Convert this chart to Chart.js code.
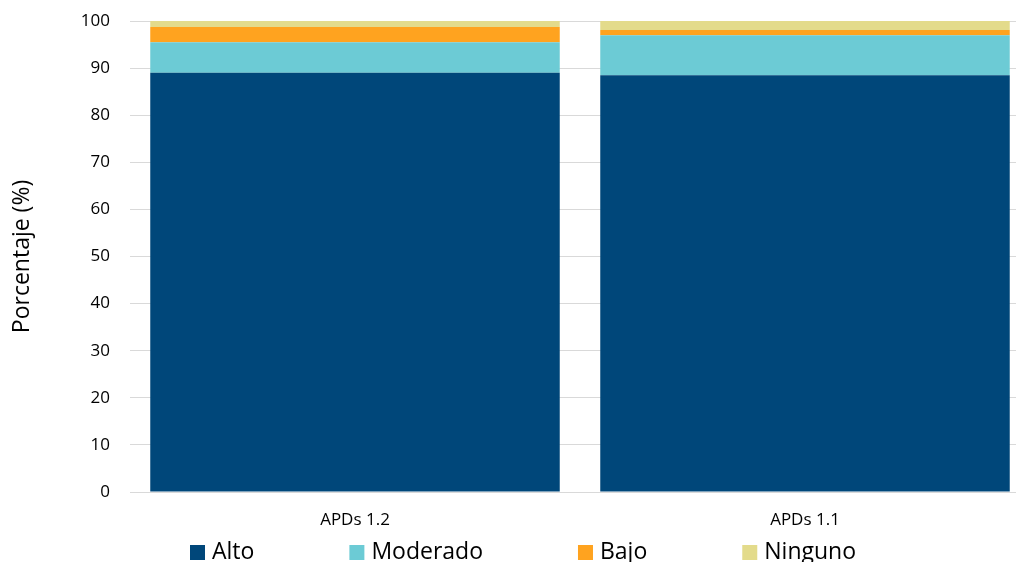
<!DOCTYPE html>
<html>
<head>
<meta charset="utf-8">
<script src="https://cdn.jsdelivr.net/npm/chart.js@4/dist/chart.umd.min.js"></script>
<style>
  html, body { margin: 0; padding: 0; background: #fff; overflow: hidden; }
  #chart { display: block; }
</style>
</head>
<body>
<canvas id="chart" width="1030" height="562"></canvas>
<script>
// data block
const categories = ['APDs 1.2', 'APDs 1.1'];
const seriesNames = ['Alto', 'Moderado', 'Bajo', 'Ninguno'];
const alto = [89.0, 88.5];
const moderado = [6.5, 8.5];
const bajo = [3.2, 1.1];
const ninguno = [1.3, 1.9];
const yTicks = [0, 10, 20, 30, 40, 50, 60, 70, 80, 90, 100];

const colors = ['#00477a', '#6ccbd5', '#ffa31f', '#e3db8b'];
const FONT = '"Open Sans", sans-serif';

// legend drawn by hand so the gaps look like the original
const bottomLegend = {
    id: 'bottomLegend',
    afterDraw(chart) {
        const ctx = chart.ctx;
        ctx.save();
        ctx.font = '23px ' + FONT;
        ctx.textBaseline = 'alphabetic';
        let x = 190;
        chart.data.datasets.forEach(ds => {
            ctx.fillStyle = ds.backgroundColor;
            ctx.fillRect(x, 545, 15, 15);
            ctx.fillStyle = '#000';
            ctx.fillText(ds.label, x + 22, 559);
            x += 22 + ctx.measureText(ds.label).width + 95;
        });
        ctx.restore();
    }
};

const seriesValues = [alto, moderado, bajo, ninguno];

new Chart(document.getElementById('chart'), {
    type: 'bar',
    data: {
        labels: categories,
        datasets: seriesNames.map((name, i) => ({
            label: name,
            data: seriesValues[i],
            backgroundColor: colors[i],
            borderWidth: 0,
            categoryPercentage: 1,
            barPercentage: 0.91
        }))
    },
    options: {
        responsive: false,
        animation: false,
        layout: { padding: { top: 21, right: 0, bottom: 0, left: 0 } },
        scales: {
            x: {
                stacked: true,
                grid: { display: false },
                border: { display: true, color: '#d9d9d9', width: 1 },
                ticks: {
                    color: '#000',
                    font: { family: FONT, size: 17 },
                    padding: 10
                },
                afterFit(scale) { scale.height = 70; }
            },
            y: {
                stacked: true,
                min: 0,
                max: 100,
                afterBuildTicks(scale) {
                    scale.ticks = yTicks.map(v => ({ value: v }));
                },
                grid: { color: '#d9d9d9', drawTicks: false, lineWidth: 1 },
                border: { display: false },
                ticks: {
                    color: '#000',
                    font: { family: FONT, size: 17 },
                    padding: 20
                },
                title: {
                    display: true,
                    text: 'Porcentaje (%)',
                    color: '#000',
                    font: { family: FONT, size: 23 },
                    padding: { top: 9, bottom: 0 }
                },
                afterFit(scale) {
                    scale.width = 130;
                    scale.paddingTop = 0;
                    scale.paddingBottom = 0;
                }
            }
        },
        plugins: {
            legend: { display: false },
            tooltip: { enabled: false }
        }
    },
    plugins: [bottomLegend]
});
</script>
</body>
</html>
